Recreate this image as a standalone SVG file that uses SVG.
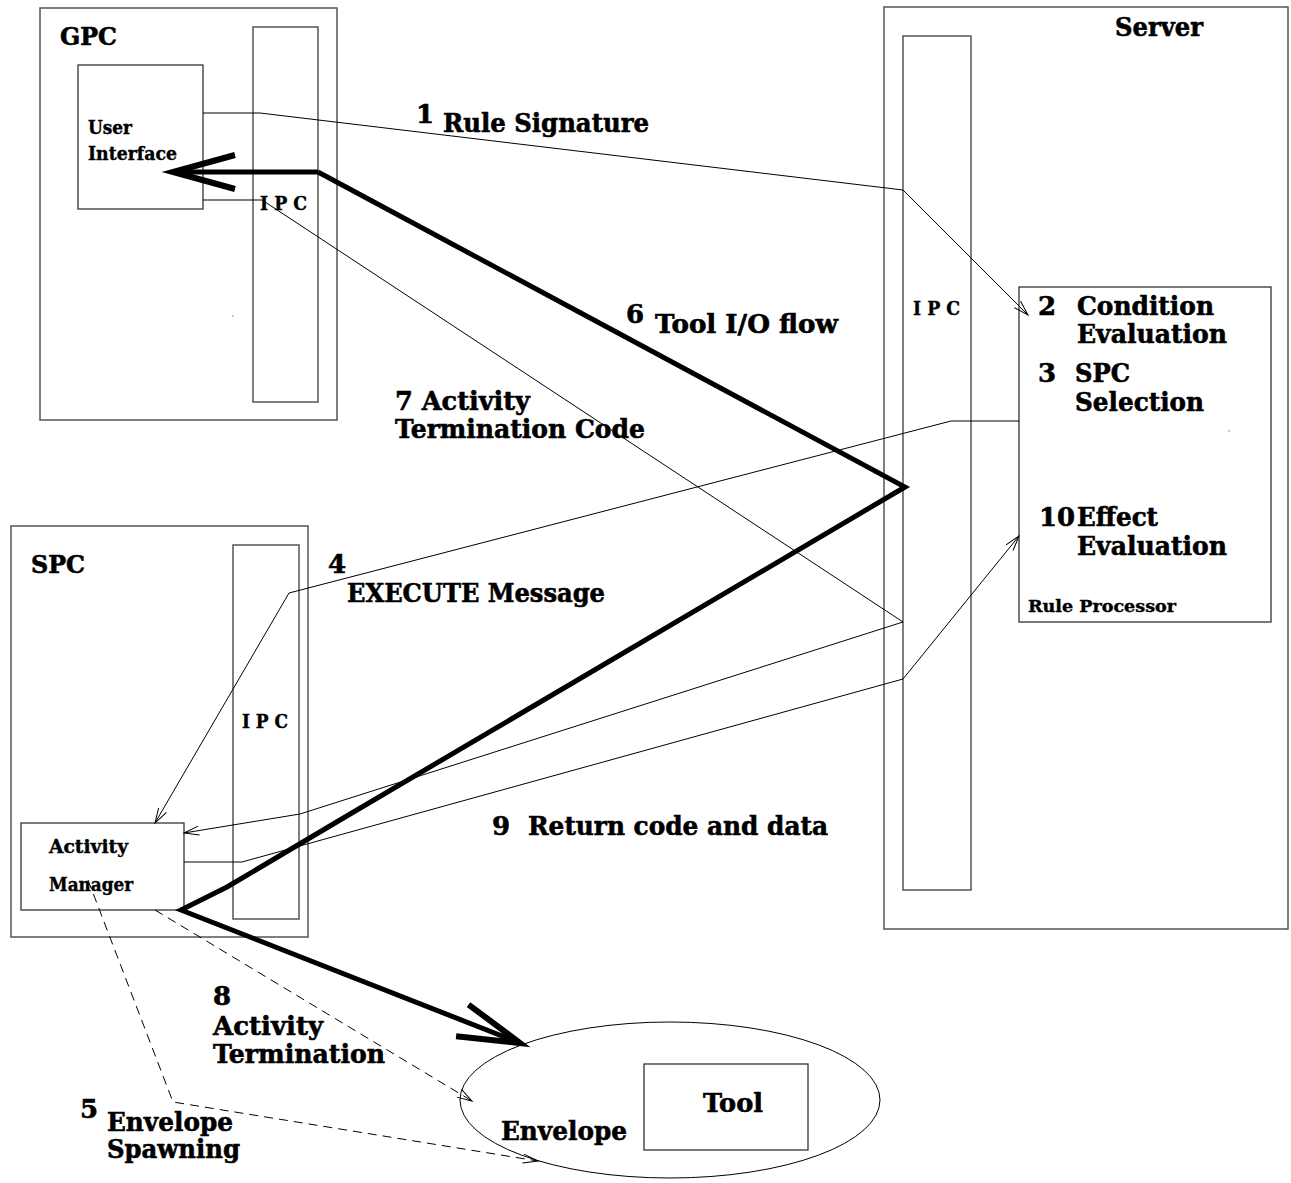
<svg xmlns="http://www.w3.org/2000/svg" width="1291" height="1183" viewBox="0 0 1291 1183">
  <style>
    .frame { fill: none; stroke: #555; stroke-width: 1.5; }
    .box { fill: none; stroke: #333; stroke-width: 1.3; }
    .lbl { font-family: "DejaVu Serif", "Liberation Serif", serif; font-weight: bold; fill: #000; stroke: #000; stroke-width: 0.6; }
    .big { font-size: 26px; }
    .mid { font-size: 24px; }
    .small { font-size: 18px; stroke-width: 0.4; }
    .tiny { font-size: 17px; stroke-width: 0.4; }
    .wire { fill: none; stroke: #000; stroke-width: 1; }
    .dash { fill: none; stroke: #000; stroke-width: 1; stroke-dasharray: 9 6; }
    .flow { fill: none; stroke: #000; stroke-width: 5; stroke-linejoin: miter; }
  </style>
  <defs>
    <marker id="open" markerUnits="userSpaceOnUse" markerWidth="40" markerHeight="20" viewBox="-20 -10 24 20" refX="0" refY="0" orient="auto" overflow="visible">
      <path d="M-15,-4.5 L0,0 L-15,4.5" fill="none" stroke="#000" stroke-width="1"/>
    </marker>
    <marker id="bigopen" markerUnits="userSpaceOnUse" markerWidth="80" markerHeight="50" viewBox="-70 -25 80 50" refX="0" refY="0" orient="auto" overflow="visible">
      <path d="M-62,-17 L0,0 L-62,17" fill="none" stroke="#000" stroke-width="6" stroke-linejoin="miter"/>
    </marker>
  </defs>

  <rect width="1291" height="1183" fill="#fff"/>

  <!-- GPC host -->
  <g id="gpc">
    <rect class="frame" x="40" y="8" width="297" height="412"/>
    <text class="lbl mid" x="60" y="45" textLength="57" lengthAdjust="spacingAndGlyphs">GPC</text>
    <rect class="frame" x="253" y="27" width="65" height="375"/>
    <text class="lbl small" x="260" y="210" textLength="47" lengthAdjust="spacingAndGlyphs">I P C</text>
    <circle cx="233" cy="316" r="0.7" fill="#666"/>
  </g>
  <g id="user-interface">
    <rect class="box" x="78" y="65" width="125" height="144"/>
    <text class="lbl small" x="88" y="134" textLength="44" lengthAdjust="spacingAndGlyphs">User</text>
    <text class="lbl small" x="88" y="160" textLength="89" lengthAdjust="spacingAndGlyphs">Interface</text>
  </g>

  <!-- Server host -->
  <g id="server">
    <rect class="frame" x="884" y="7" width="404" height="922"/>
    <text class="lbl big" x="1115" y="36" textLength="88" lengthAdjust="spacingAndGlyphs">Server</text>
    <rect class="frame" x="903" y="36" width="68" height="854"/>
    <text class="lbl small" x="913" y="315" textLength="47" lengthAdjust="spacingAndGlyphs">I P C</text>
  </g>
  <g id="rule-processor">
    <rect class="box" x="1019" y="287" width="252" height="335"/>
    <text class="lbl big" x="1038" y="315">2</text>
    <text class="lbl big" x="1077" y="315" textLength="137" lengthAdjust="spacingAndGlyphs">Condition</text>
    <text class="lbl big" x="1077" y="343" textLength="150" lengthAdjust="spacingAndGlyphs">Evaluation</text>
    <text class="lbl big" x="1038" y="382">3</text>
    <text class="lbl big" x="1075" y="382" textLength="55" lengthAdjust="spacingAndGlyphs">SPC</text>
    <text class="lbl big" x="1075" y="411" textLength="129" lengthAdjust="spacingAndGlyphs">Selection</text>
    <text class="lbl big" x="1039" y="526" textLength="36" lengthAdjust="spacingAndGlyphs">10</text>
    <text class="lbl big" x="1077" y="526" textLength="81" lengthAdjust="spacingAndGlyphs">Effect</text>
    <text class="lbl big" x="1077" y="555" textLength="150" lengthAdjust="spacingAndGlyphs">Evaluation</text>
    <text class="lbl tiny" x="1028" y="612" textLength="148" lengthAdjust="spacingAndGlyphs">Rule Processor</text>
    <circle cx="1229" cy="431" r="0.7" fill="#666"/>
  </g>

  <!-- SPC host -->
  <g id="spc">
    <rect class="frame" x="11" y="526" width="297" height="411"/>
    <text class="lbl mid" x="31" y="573" textLength="54" lengthAdjust="spacingAndGlyphs">SPC</text>
    <rect class="frame" x="233" y="545" width="66" height="374"/>
    <text class="lbl small" x="242" y="728" textLength="46" lengthAdjust="spacingAndGlyphs">I P C</text>
  </g>
  <g id="activity-manager">
    <rect class="box" x="21" y="823" width="163" height="87"/>
    <text class="lbl small" x="49" y="853" textLength="79" lengthAdjust="spacingAndGlyphs">Activity</text>
    <text class="lbl small" x="49" y="891" textLength="84" lengthAdjust="spacingAndGlyphs">Manager</text>
  </g>

  <!-- Envelope with the tool inside -->
  <g id="envelope">
    <ellipse cx="670" cy="1100" rx="210" ry="78" fill="none" stroke="#000" stroke-width="1"/>
    <text class="lbl big" x="501" y="1140" textLength="126" lengthAdjust="spacingAndGlyphs">Envelope</text>
  </g>
  <g id="tool">
    <rect class="box" x="644" y="1064" width="164" height="86"/>
    <text class="lbl big" x="703" y="1112" textLength="60" lengthAdjust="spacingAndGlyphs">Tool</text>
  </g>

  <!-- Message flows between the components -->
  <g id="connectors">
    <!-- 1 rule signature -->
    <polyline class="wire" points="203,113 260,113 903,190 1028,315" marker-end="url(#open)"/>
    <!-- 4 execute message -->
    <polyline class="wire" points="1019,421 951,421 289,593 155,823" marker-end="url(#open)"/>
    <!-- 7 activity termination code -->
    <polyline class="wire" points="203,200 262,200 903,622 300,814 184,833" marker-end="url(#open)"/>
    <!-- 9 return code and data -->
    <polyline class="wire" points="184,862 242,862 903,679 1019,536" marker-end="url(#open)"/>
    <!-- 6 tool I/O flow -->
    <polyline class="flow" points="318,172 173,172" marker-end="url(#bigopen)"/>
    <polyline class="flow" points="318,172 905,487 340,820 227,887 181,910 520,1043" marker-end="url(#bigopen)"/>
    <!-- 5 envelope spawning -->
    <polyline class="dash" points="88,880 173,1102 538,1161" marker-end="url(#open)"/>
    <!-- 8 activity termination -->
    <polyline class="dash" points="155,910 472,1101" marker-end="url(#open)"/>
  </g>

  <!-- Step labels -->
  <g id="labels">
    <text class="lbl big" x="416" y="123">1</text>
    <text class="lbl big" x="443" y="132" textLength="206" lengthAdjust="spacingAndGlyphs">Rule Signature</text>
    <text class="lbl big" x="626" y="323">6</text>
    <text class="lbl big" x="655" y="333" textLength="183" lengthAdjust="spacingAndGlyphs">Tool I/O flow</text>
    <text class="lbl big" x="395" y="410" textLength="135" lengthAdjust="spacingAndGlyphs">7 Activity</text>
    <text class="lbl big" x="395" y="438" textLength="250" lengthAdjust="spacingAndGlyphs">Termination Code</text>
    <text class="lbl big" x="328" y="573">4</text>
    <text class="lbl big" x="347" y="602" textLength="258" lengthAdjust="spacingAndGlyphs">EXECUTE Message</text>
    <text class="lbl big" x="492" y="835">9</text>
    <text class="lbl big" x="528" y="835" textLength="300" lengthAdjust="spacingAndGlyphs">Return code and data</text>
    <text class="lbl big" x="213" y="1005">8</text>
    <text class="lbl big" x="213" y="1035" textLength="110" lengthAdjust="spacingAndGlyphs">Activity</text>
    <text class="lbl big" x="213" y="1063" textLength="172" lengthAdjust="spacingAndGlyphs">Termination</text>
    <text class="lbl big" x="80" y="1118">5</text>
    <text class="lbl big" x="107" y="1131" textLength="126" lengthAdjust="spacingAndGlyphs">Envelope</text>
    <text class="lbl big" x="107" y="1158" textLength="133" lengthAdjust="spacingAndGlyphs">Spawning</text>
  </g>
</svg>
